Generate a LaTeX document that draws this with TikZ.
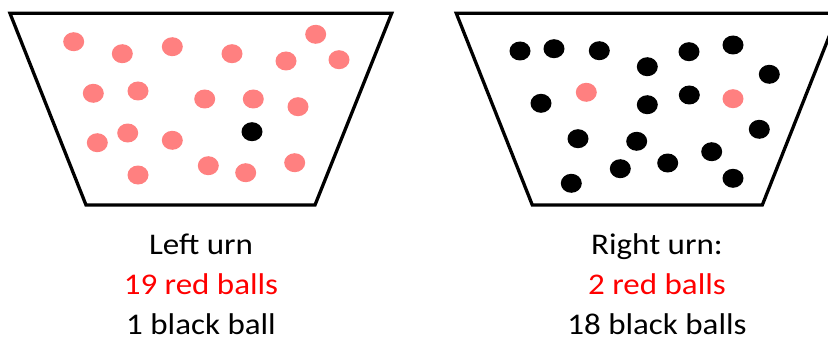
\documentclass[tikz,border=0pt]{standalone}
\usepackage{fontspec}
\setmainfont{Carlito}
\definecolor{ballred}{HTML}{FF8080}
\definecolor{txtred}{HTML}{FF0000}
\newcommand{\wide}[1]{\scalebox{1.1}[1]{#1}}
\begin{document}
\begin{tikzpicture}[x=1pt,y=-1pt,
  urn/.style={line width=3.3pt,line join=miter},
  rb/.style={fill=ballred},
  bb/.style={fill=black},
  lbl/.style={anchor=base,inner sep=0pt,font=\fontsize{30}{34}\selectfont}]
\useasboundingbox (0,0) rectangle (828,337);
\clip (0,0) rectangle (828,337);
% left urn
\draw[urn] (10,13.3) -- (391.7,13.3) -- (315,205) -- (86,205) -- cycle;
\foreach \x/\y in {73.7/41.7,122.3/53.7,172.3/46.7,232/53.7,286/61,315.7/34.3,339/59.7,
  93.3/93.3,138/91,204.7/99,253.3/99,298/106.7,97.3/142.7,127.7/133,172.3/140.3,
  138/175,208.3/165.7,245.7/172.7,294.7/162.7}
  \fill[rb] (\x,\y) ellipse [x radius=10.5, y radius=9.5];
\fill[bb] (252,131.7) ellipse [x radius=10.5, y radius=9.5];
% right urn
\draw[urn] (456.3,13.3) -- (838.3,13.3) -- (762.3,205) -- (532.3,205) -- cycle;
\foreach \x/\y in {520/51,554/48.7,599.3/50.7,647.3/66.7,689/51.7,733/45,769.3/74.3,
  541/103.3,647.3/104.7,689.3/95,759.3/129.3,578/138.7,636.7/141.3,711.7/151.7,
  667.7/163,620.3/168.7,571.3/183.3,733/178.3}
  \fill[bb] (\x,\y) ellipse [x radius=10.5, y radius=9.5];
\foreach \x/\y in {586.3/92.3,733/98.7}
  \fill[rb] (\x,\y) ellipse [x radius=10.5, y radius=9.5];
% labels
\node[lbl] (l1) at (201,254) {\wide{Left urn}};
\node[lbl,text=txtred] (l2) at (201,294.5) {\wide{19 red balls}};
\node[lbl] (l3) at (201,334) {\wide{1 black ball}};
\node[lbl] (r1) at (657,254) {\wide{Right urn:}};
\node[lbl,text=txtred] (r2) at (657,294.5) {\wide{2 red balls}};
\node[lbl] (r3) at (657,334) {\wide{18 black balls}};
\end{tikzpicture}
\end{document}
